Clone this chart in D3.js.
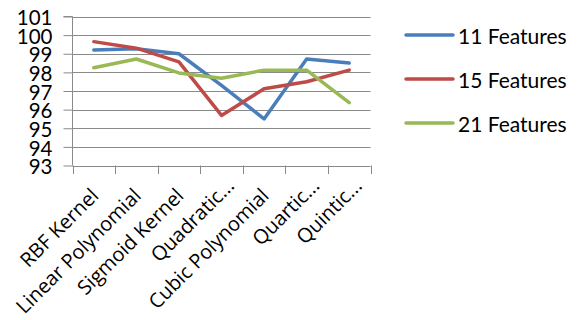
<!DOCTYPE html>
<html>
<head>
<meta charset="utf-8">
<script src="https://cdn.jsdelivr.net/npm/d3@7"></script>
<style>
  html, body { margin: 0; padding: 0; background: #fff; }
  svg { display: block; }
</style>
</head>
<body>
<div id="chart"></div>
<script>
const categories = ["RBF Kernel", "Linear Polynomial", "Sigmoid Kernel", "Quadratic...", "Cubic Polynomial", "Quartic...", "Quintic..."];
const seriesNames = ["11 Features", "15 Features", "21 Features"];
const features11 = [99.2, 99.27, 99.0, 97.3, 95.5, 98.72, 98.5];
const features15 = [99.65, 99.3, 98.56, 95.69, 97.12, 97.5, 98.12];
const features21 = [98.25, 98.72, 97.97, 97.68, 98.12, 98.12, 96.37];
const yTicks = [93, 94, 95, 96, 97, 98, 99, 100, 101];
const colors = ["#4A7EBB", "#BE4B48", "#98B954"];

const W = 581, H = 320;
const svg = d3.select("#chart").append("svg").attr("width", W).attr("height", H);

const x = d3.scaleBand().domain(categories).range([72.5, 370.5]);
const y = d3.scaleLinear().domain([93, 101]).range([165.5, 16.5]);

// gridlines
svg.append("g").selectAll("line").data(yTicks).join("line")
  .attr("x1", 72.5).attr("x2", 370.5)
  .attr("y1", d => Math.round(y(d)) + 0.5).attr("y2", d => Math.round(y(d)) + 0.5)
  .attr("stroke", "#8a8a8a").attr("stroke-width", 1);

// y axis
const yAxis = svg.append("g").attr("transform", "translate(72.5,0)")
  .call(d3.axisLeft(y).tickValues(yTicks).tickSize(9).tickPadding(11).tickFormat(d3.format("d")));
yAxis.select(".domain").attr("stroke", "#8a8a8a").attr("d", `M-9,${y(101)}H0V${y(93)}`);
yAxis.selectAll(".tick line").attr("stroke", "#8a8a8a");
yAxis.selectAll(".tick text").attr("font-family", "Lato, sans-serif").attr("font-size", 20.5)
  .attr("fill", "#000").attr("dy", "0.4em");

// x axis ticks (boundaries)
const bounds = categories.map(c => x(c)).concat([x.range()[1]]);
svg.append("g").selectAll("line").data(bounds).join("line")
  .attr("x1", d => Math.round(d) + 0.5).attr("x2", d => Math.round(d) + 0.5)
  .attr("y1", 165.5).attr("y2", 174)
  .attr("stroke", "#8a8a8a");

// x labels
svg.append("g").selectAll("text").data(categories).join("text")
  .attr("transform", d => {
    const cx = x(d) + x.bandwidth() / 2;
    const trunc = d.endsWith("...");
    const ax = cx + (trunc ? 14 : 6);
    const ay = trunc ? 187 : 197;
    return `translate(${ax},${ay}) rotate(-45)`;
  })
  .attr("text-anchor", "end")
  .attr("font-family", "'Open Sans', sans-serif").attr("font-size", 20)
  .attr("fill", "#000")
  .text(d => d);

// lines
const allSeries = [features11, features15, features21];
const line = d3.line()
  .x((d, i) => x(categories[i]) + x.bandwidth() / 2)
  .y(d => y(d));
svg.append("g").selectAll("path").data(allSeries).join("path")
  .attr("d", d => line(d))
  .attr("fill", "none")
  .attr("stroke", (d, i) => colors[i])
  .attr("stroke-width", 3.5)
  .attr("stroke-linejoin", "round")
  .attr("stroke-linecap", "round");

// legend
const legendY = [35, 79, 123];
const lg = svg.append("g").selectAll("g").data(seriesNames).join("g")
  .attr("transform", (d, i) => `translate(406,${legendY[i]})`);
lg.append("line").attr("x1", 0).attr("x2", 47).attr("y1", 0).attr("y2", 0)
  .attr("stroke", (d, i) => colors[i]).attr("stroke-width", 3.5).attr("stroke-linecap", "round");
lg.append("text").attr("x", 52).attr("y", 0).attr("dy", "0.42em")
  .attr("font-family", "Lato, sans-serif").attr("font-size", 21).attr("fill", "#000")
  .text(d => d);
</script>
</body>
</html>
